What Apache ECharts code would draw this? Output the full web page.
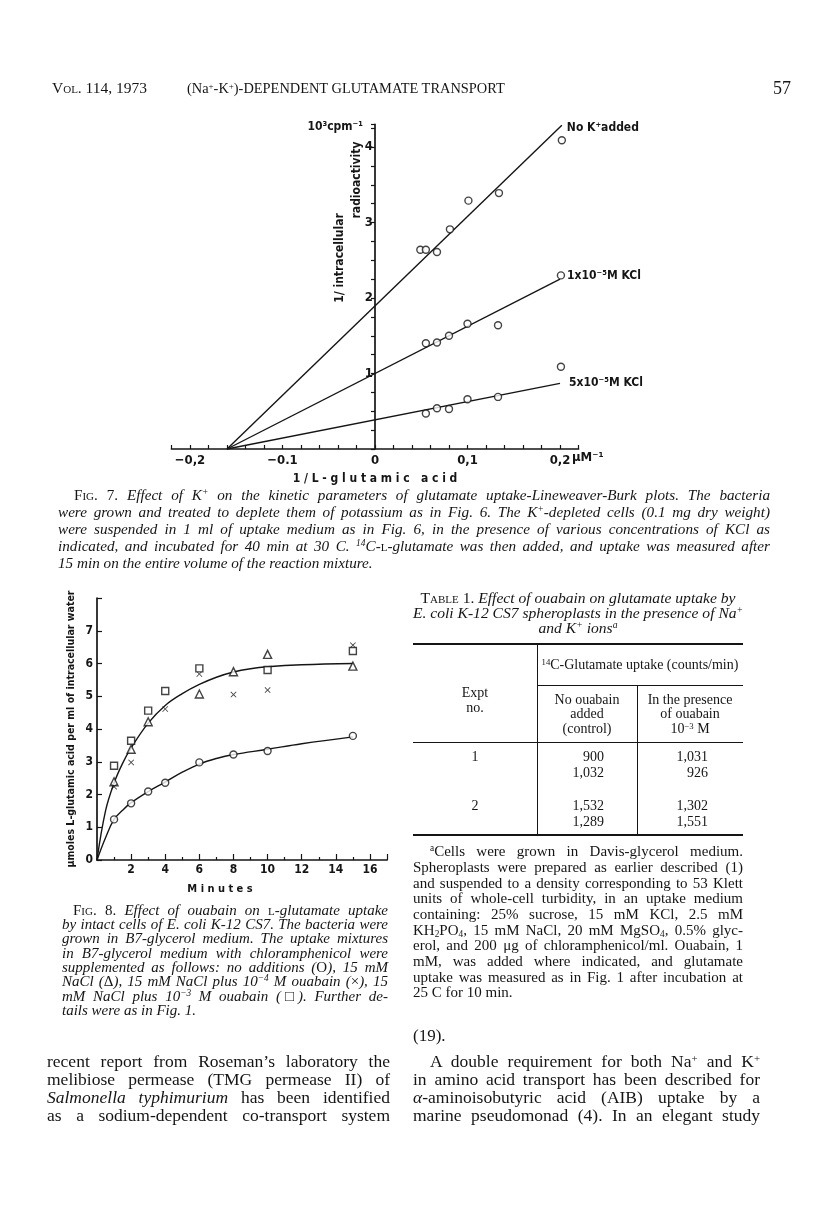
<!DOCTYPE html>
<html><head><meta charset="utf-8">
<script src="https://cdn.jsdelivr.net/npm/echarts@6/dist/echarts.min.js"></script>
<style>
html,body{margin:0;padding:0;background:#fff;}
#page{position:relative;width:816px;height:1231px;overflow:hidden;background:#fff;font-family:"Liberation Serif","DejaVu Serif",serif;color:#151515;}
#chart{position:absolute;left:0;top:0;width:816px;height:1231px;}
.t{position:absolute;margin:0;padding:0;}
.j{text-align:justify;text-align-last:justify;}
.c{text-align:center;}
.r{text-align:right;}
.i{font-style:italic;}
.sc{font-variant:small-caps;font-style:normal;}
.up{font-style:normal;}
.sp{font-size:.62em;vertical-align:.5em;line-height:0;}
.sb{font-size:.62em;vertical-align:-.25em;line-height:0;}
.rule{position:absolute;background:#151515;}
</style></head><body><div id="page"><div id="chart"></div></div>
<script>
// ---------- Fig. 7 data (Lineweaver-Burk) ----------
const fig7XTickValues = [-0.2, -0.1, 0, 0.1, 0.2];
const fig7XTickLabels = ['\u22120,2', '\u22120.1', '0', '0,1', '0,2'];
const fig7YTickValues = [1, 2, 3, 4];
const fig7YTickLabels = ['1', '2', '3', '4'];

const noK_x  = [0.049, 0.055, 0.067, 0.081, 0.101, 0.134, 0.202];
const noK_y  = [2.64, 2.64, 2.61, 2.91, 3.29, 3.39, 4.09];
const kcl1_x = [0.055, 0.067, 0.080, 0.100, 0.133, 0.201];
const kcl1_y = [1.40, 1.41, 1.50, 1.66, 1.64, 2.30];
const kcl5_x = [0.055, 0.067, 0.080, 0.100, 0.133, 0.201];
const kcl5_y = [0.47, 0.54, 0.53, 0.66, 0.69, 1.09];

const fitNoK_x = [-0.16, 0.202];
const fitNoK_y = [0, 4.29];
const fitK1_x  = [-0.16, 0.200];
const fitK1_y  = [0, 2.25];
const fitK5_x  = [-0.16, 0.200];
const fitK5_y  = [0, 0.87];

const fig7LineNames = ['No K\u207Aadded', '1x10\u207B\u2075M KCl', '5x10\u207B\u2075M KCl'];

// ---------- Fig. 8 data (uptake vs time) ----------
const fig8XTickValues = [2, 4, 6, 8, 10, 12, 14, 16];
const fig8XTickLabels = ['2', '4', '6', '8', '10', '12', '14', '16'];
const fig8YTickValues = [0, 1, 2, 3, 4, 5, 6, 7];
const fig8YTickLabels = ['0', '1', '2', '3', '4', '5', '6', '7'];

const t_ctrl = [1, 2, 3, 4, 6, 8, 10, 15];
const y_ctrl = [1.24, 1.73, 2.09, 2.36, 2.98, 3.22, 3.33, 3.79];
const t_nacl = [1, 2, 3, 6, 8, 10, 15];
const y_nacl = [2.39, 3.38, 4.22, 5.07, 5.75, 6.28, 5.92];
const t_ou4  = [1, 2, 4, 6, 8, 10, 15];
const y_ou4  = [2.24, 2.98, 4.61, 5.68, 5.05, 5.19, 6.56];
const t_ou3  = [1, 2, 3, 4, 6, 10, 15];
const y_ou3  = [2.88, 3.64, 4.56, 5.16, 5.85, 5.80, 6.38];

const curveUp_t = [0, 0.5, 1, 1.5, 2, 3, 4, 5, 6, 7, 8, 9, 10, 12, 15];
const curveUp_y = [0, 1.5, 2.35, 2.95, 3.42, 4.18, 4.72, 5.08, 5.36, 5.58, 5.74, 5.84, 5.90, 5.96, 6.00];
const curveLo_t = [0, 0.5, 1, 1.5, 2, 3, 4, 5, 6, 7, 8, 10, 12, 15];
const curveLo_y = [0, 0.68, 1.24, 1.52, 1.75, 2.09, 2.38, 2.68, 2.93, 3.10, 3.22, 3.38, 3.55, 3.76];

// ---------- Table 1 data ----------
const tableExpt = ['1', '2'];
const tableControl = [[900, 1032], [1532, 1289]];
const tableOuabain = [[1031, 926], [1302, 1551]];

// ================= chart =================
const FONT_CHART = "'DejaVu Sans Condensed','Liberation Sans','DejaVu Sans',sans-serif";
const INK = '#151515';
function pts(xs, ys) { return xs.map((x, i) => [x, ys[i]]); }
function labelFrom(values, labels) {
  return v => { for (let i = 0; i < values.length; i++) if (Math.abs(v - values[i]) < 1e-7) return labels[i]; return ''; };
}
const lblStyle = { color: INK, fontWeight: 'bold', fontSize: 13, fontFamily: FONT_CHART };
const axLine = { lineStyle: { color: INK, width: 1.7 } };

const openSym = { color: '#fff', borderColor: INK, borderWidth: 1.4 };
function scatter(name, x, y, xi, sym, size) {
  return { type: 'scatter', name, xAxisIndex: xi, yAxisIndex: xi, data: pts(x, y), symbol: sym, symbolSize: size,
           itemStyle: sym.indexOf('path') === 0 ? { color: INK } : openSym, z: 5 };
}
function fitLine(name, x, y, off) {
  return { type: 'line', name, xAxisIndex: 0, yAxisIndex: 0, data: pts(x, y), symbol: 'none', clip: false,
           lineStyle: { color: INK, width: 1.4 },
           endLabel: { show: true, formatter: name, color: INK, fontWeight: 'bold', fontSize: 12, fontFamily: FONT_CHART, distance: 5, offset: off } };
}
const crossPath = 'path://M0,1 L1,0 L5,4 L9,0 L10,1 L6,5 L10,9 L9,10 L5,6 L1,10 L0,9 L4,5 Z';

const G7 = { left: 171.5, top: 124.4, width: 407, height: 324.6 };
const chart = echarts.init(document.getElementById('chart'), null, { renderer: 'canvas' });
chart.setOption({
  animation: false,
  backgroundColor: 'transparent',
  grid: [
    G7,
    { left: 97, top: 598, width: 290, height: 262 }
  ],
  xAxis: [
    { type: 'value', gridIndex: 0, min: -0.22, max: 0.22, interval: 0.02, splitLine: { show: false },
      axisLine: axLine, axisTick: { inside: true, length: 4, lineStyle: { color: INK, width: 1.2 } },
      axisLabel: Object.assign({ formatter: labelFrom(fig7XTickValues, fig7XTickLabels), margin: 5 }, lblStyle),
      name: '1 / L - g l u t a m i c   a c i d', nameLocation: 'middle', nameGap: 24,
      nameTextStyle: { color: INK, fontWeight: 'bold', fontSize: 12, fontFamily: FONT_CHART } },
    { type: 'value', gridIndex: 1, min: 0, max: 17, interval: 2, splitLine: { show: false },
      axisLine: axLine, axisTick: { inside: true, length: 6, lineStyle: { color: INK, width: 1.2 } },
      minorTick: { show: true, splitNumber: 2, length: 3, lineStyle: { color: INK, width: 1.2 } },
      axisLabel: Object.assign({ formatter: labelFrom(fig8XTickValues, fig8XTickLabels), margin: 4 }, lblStyle, { fontSize: 12 }) }
  ],
  yAxis: [
    { type: 'value', gridIndex: 0, min: 0, max: 4.3, interval: 0.25, splitLine: { show: false },
      offset: -(0.22 / 0.44) * G7.width,
      axisLine: Object.assign({ onZero: false }, axLine), axisTick: { length: 4, lineStyle: { color: INK, width: 1.2 } },
      axisLabel: Object.assign({ formatter: labelFrom(fig7YTickValues, fig7YTickLabels), margin: 2 }, lblStyle) },
    { type: 'value', gridIndex: 1, min: 0, max: 8, interval: 1, splitLine: { show: false },
      axisLine: axLine, axisTick: { inside: true, length: 5, lineStyle: { color: INK, width: 1.2 } },
      axisLabel: Object.assign({ formatter: labelFrom(fig8YTickValues, fig8YTickLabels), margin: 4 }, lblStyle, { fontSize: 12 }),
      name: '\u03BCmoles L-glutamic acid per ml of intracellular water', nameLocation: 'middle', nameGap: 20,
      nameTextStyle: { color: INK, fontWeight: 'bold', fontSize: 10.5, fontFamily: FONT_CHART } }
  ],
  graphic: [
    { type: 'text', x: 363, y: 127, style: { text: '10\u00B3cpm\u207B\u00B9', fill: INK, font: "bold 12px " + FONT_CHART, align: 'right', verticalAlign: 'middle' } },
    { type: 'text', x: 340, y: 258, rotation: Math.PI / 2, style: { text: '1/ intracellular', fill: INK, font: "bold 12px " + FONT_CHART, align: 'center', verticalAlign: 'middle' } },
    { type: 'text', x: 357, y: 180, rotation: Math.PI / 2, style: { text: 'radioactivity', fill: INK, font: "bold 12px " + FONT_CHART, align: 'center', verticalAlign: 'middle' } },
    { type: 'text', x: 572, y: 458, style: { text: '\u03BCM\u207B\u00B9', fill: INK, font: "bold 13px " + FONT_CHART, align: 'left', verticalAlign: 'middle' } },
    { type: 'text', x: 220, y: 889, style: { text: 'M i n u t e s', fill: INK, font: "bold 11px " + FONT_CHART, align: 'center', verticalAlign: 'middle' } }
  ],
  series: [
    fitLine(fig7LineNames[0], fitNoK_x, fitNoK_y, [0, 3]),
    fitLine(fig7LineNames[1], fitK1_x, fitK1_y, [2, -3]),
    fitLine(fig7LineNames[2], fitK5_x, fitK5_y, [4, 0]),
    scatter('No K+ added pts', noK_x, noK_y, 0, 'circle', 7),
    scatter('1e-5 M KCl pts', kcl1_x, kcl1_y, 0, 'circle', 7),
    scatter('5e-5 M KCl pts', kcl5_x, kcl5_y, 0, 'circle', 7),
    { type: 'line', name: 'NaCl curve', xAxisIndex: 1, yAxisIndex: 1, data: pts(curveUp_t, curveUp_y), symbol: 'none', smooth: 0.4, lineStyle: { color: INK, width: 1.4 } },
    { type: 'line', name: 'control curve', xAxisIndex: 1, yAxisIndex: 1, data: pts(curveLo_t, curveLo_y), symbol: 'none', smooth: 0.4, lineStyle: { color: INK, width: 1.4 } },
    scatter('no additions', t_ctrl, y_ctrl, 1, 'circle', 7),
    scatter('15 mM NaCl', t_nacl, y_nacl, 1, 'triangle', 8),
    scatter('NaCl + 1e-4 M ouabain', t_ou4, y_ou4, 1, crossPath, 6),
    scatter('NaCl + 1e-3 M ouabain', t_ou3, y_ou3, 1, 'rect', 7)
  ]
});

// ================= page text =================
const page = document.getElementById('page');
function T(html, left, cy, o) {
  o = o || {};
  const d = document.createElement('div');
  const lh = o.lh || 16;
  d.className = 't ' + (o.cls || '');
  d.style.left = left + 'px';
  d.style.top = (cy - lh / 2) + 'px';
  d.style.lineHeight = lh + 'px';
  d.style.fontSize = (o.size || 13) + 'px';
  if (o.width) d.style.width = o.width + 'px'; else d.style.whiteSpace = 'nowrap';
  d.innerHTML = html;
  page.appendChild(d);
  return d;
}
function R(left, top, w, h) {
  const d = document.createElement('div');
  d.className = 'rule';
  d.style.left = left + 'px'; d.style.top = top + 'px'; d.style.width = w + 'px'; d.style.height = h + 'px';
  page.appendChild(d);
}
// paragraph of fixed lines, justified; one font size per paragraph, shrunk so no line overflows
function lines(arr, left, right, cy0, step, size, cls, indent) {
  const divs = arr.map((s, k) => {
    const last = k === arr.length - 1;
    const l = left + (k === 0 ? indent : 0);
    const d = T(s, l, cy0 + k * step, { width: right - l, size: size, lh: step + 2, cls: cls + (last ? '' : ' j') });
    d._w = right - l;
    return d;
  });
  let s = size;
  divs.forEach(d => {
    d.style.whiteSpace = 'nowrap'; d.style.width = 'auto';
    const nat = d.offsetWidth;
    if (nat > d._w - 3) s = Math.min(s, size * (d._w - 3) / nat);
  });
  divs.forEach(d => { d.style.fontSize = s + 'px'; d.style.whiteSpace = 'normal'; d.style.width = d._w + 'px'; });
}

// header
T('<span class="sc">Vol.</span> 114, 1973', 52, 88, { size: 15.5 });
T('(Na<span class="sp">+</span>-K<span class="sp">+</span>)-DEPENDENT GLUTAMATE TRANSPORT', 187, 88, { size: 14.4 });
T('57', 773, 88, { size: 18 });

// Fig 7 caption
lines([
  '<span class="up"><span class="sc">Fig.</span> 7.</span> Effect of K<span class="sp">+</span> on the kinetic parameters of glutamate uptake-Lineweaver-Burk plots. The bacteria',
  'were grown and treated to deplete them of potassium as in Fig. 6. The K<span class="sp">+</span>-depleted cells (0.1 mg dry weight)',
  'were suspended in 1 ml of uptake medium as in Fig. 6, in the presence of various concentrations of KCl as',
  'indicated, and incubated for 40 min at 30 C. <span class="sp">14</span>C-<span class="sc">l</span>-glutamate was then added, and uptake was measured after',
  '15 min on the entire volume of the reaction mixture.'
], 58, 770, 494, 17, 15.2, 'i', 16);

// Fig 8 caption
lines([
  '<span class="up"><span class="sc">Fig.</span> 8.</span> Effect of ouabain on <span class="sc">l</span>-glutamate uptake',
  'by intact cells of E. coli K-12 CS7. The bacteria were',
  'grown in B7-glycerol medium. The uptake mixtures',
  'in B7-glycerol medium with chloramphenicol were',
  'supplemented as follows: no additions (<span class="up">O</span>), 15 mM',
  'NaCl (<span class="up">\u0394</span>), 15 mM NaCl plus 10<span class="sp">\u22124</span> M ouabain (<span class="up">\u00D7</span>), 15',
  'mM NaCl plus 10<span class="sp">\u22123</span> M ouabain (<span class="up">\u25A1</span>). Further de-',
  'tails were as in Fig. 1.'
], 62, 388, 910, 14.3, 15, 'i', 11);

// Table 1 title
T('<span class="sc">Table</span> 1. <i>Effect of ouabain on glutamate uptake by</i>', 405, 597, { width: 346, size: 15.6, cls: 'c', lh: 15 });
T('<i>E. coli K-12 CS7 spheroplasts in the presence of Na<span class="sp">+</span></i>', 405, 612, { width: 346, size: 15.6, cls: 'c', lh: 15 });
T('<i>and K<span class="sp">+</span> ions<span class="sp">a</span></i>', 405, 627, { width: 346, size: 15.6, cls: 'c', lh: 15 });

// Table frame
R(413, 643, 330, 2);
R(537, 645, 1, 190);
R(537, 685, 206, 1);
R(637, 686, 1, 149);
R(413, 742, 330, 1);
R(413, 834, 330, 2);

// Table header
T('<span class="sp">14</span>C-Glutamate uptake (counts/min)', 537, 665, { width: 206, size: 14, cls: 'c' });
T('Expt', 413, 692, { width: 124, size: 14, cls: 'c', lh: 15 });
T('no.', 413, 707, { width: 124, size: 14, cls: 'c', lh: 15 });
['No ouabain', 'added', '(control)'].forEach((s, k) => T(s, 537, 699 + k * 14.5, { width: 100, size: 14, cls: 'c', lh: 15 }));
['In the presence', 'of ouabain', '10<span class="sp">\u22123</span> M'].forEach((s, k) => T(s, 637, 699 + k * 14.5, { width: 106, size: 14, cls: 'c', lh: 15 }));

// Table body
const rowY = [757, 806];
tableExpt.forEach((e, r) => {
  T(e, 413, rowY[r], { width: 124, size: 14, cls: 'c' });
  tableControl[r].forEach((v, k) => T(v.toLocaleString('en-US'), 540, rowY[r] + k * 16.3, { width: 64, size: 14, cls: 'r' }));
  tableOuabain[r].forEach((v, k) => T(v.toLocaleString('en-US'), 640, rowY[r] + k * 16.3, { width: 68, size: 14, cls: 'r' }));
});

// Table footnote
lines([
  '<span class="sp">a</span>Cells were grown in Davis-glycerol medium.',
  'Spheroplasts were prepared as earlier described (1)',
  'and suspended to a density corresponding to 53 Klett',
  'units of whole-cell turbidity, in an uptake medium',
  'containing: 25% sucrose, 15 mM KCl, 2.5 mM',
  'KH<span class="sb">2</span>PO<span class="sb">4</span>, 15 mM NaCl, 20 mM MgSO<span class="sb">4</span>, 0.5% glyc-',
  'erol, and 200 \u03BCg of chloramphenicol/ml. Ouabain, 1',
  'mM, was added where indicated, and glutamate',
  'uptake was measured as in Fig. 1 after incubation at',
  '25 C for 10 min.'
], 413, 743, 852, 15.7, 15, '', 17);

// body text
T('(19).', 413, 1036, { size: 17 });
lines([
  'recent report from Roseman\u2019s laboratory the',
  'melibiose permease (TMG permease II) of',
  '<i>Salmonella typhimurium</i> has been identified',
  'as a sodium-dependent co-transport system'
], 47, 390, 1061, 18, 17.5, ' j', 0);
lines([
  'A double requirement for both Na<span class="sp">+</span> and K<span class="sp">+</span>',
  'in amino acid transport has been described for',
  '<i>\u03B1</i>-aminoisobutyric acid (AIB) uptake by a',
  'marine pseudomonad (4). In an elegant study'
], 413, 760, 1061, 18, 17.5, ' j', 17);
</script></body></html>
